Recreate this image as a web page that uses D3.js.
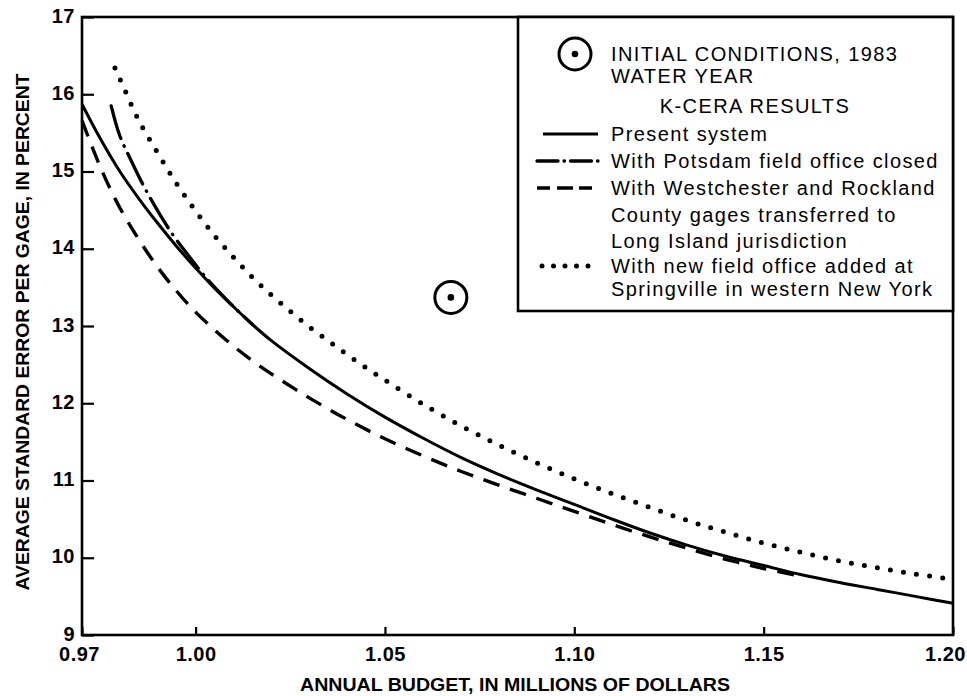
<!DOCTYPE html>
<html>
<head>
<meta charset="utf-8">
<script src="https://cdn.jsdelivr.net/npm/d3@7"></script>
<style>
  body { margin: 0; background: #fff; }
  svg { display: block; }
  text { font-family: "Liberation Sans", Arial, sans-serif; fill: #000; }
</style>
</head>
<body>
<svg id="chart" width="967" height="696"></svg>
<script>
// ---------- data ----------
const xTicks = [0.97, 1.00, 1.05, 1.10, 1.15, 1.20];
const yTicks = [9, 10, 11, 12, 13, 14, 15, 16, 17];

const presentX = [0.970,0.975,0.980,0.985,0.990,0.995,1.000,1.005,1.010,1.015,1.020,1.030,1.040,1.050,1.060,1.070,1.080,1.090,1.100,1.110,1.120,1.130,1.140,1.150,1.160,1.170,1.180,1.190,1.200];
const presentY = [15.87,15.41,15.00,14.65,14.33,14.03,13.75,13.49,13.25,13.02,12.81,12.45,12.12,11.82,11.55,11.30,11.08,10.88,10.69,10.50,10.32,10.16,10.02,9.90,9.78,9.68,9.59,9.50,9.41];

const potsdamX = [0.9777,0.980,0.983,0.986,0.990,0.994,0.998,1.002,1.006,1.010,1.015];
const potsdamY = [15.85,15.46,15.14,14.84,14.49,14.18,13.92,13.67,13.45,13.25,13.02];

const westX = [0.970,0.9725,0.975,0.9775,0.980,0.985,0.990,0.995,1.000,1.005,1.010,1.015,1.020,1.030,1.040,1.050,1.060,1.070,1.080,1.090,1.100,1.110,1.120,1.130,1.140,1.150,1.158];
const westY = [15.66,15.34,15.04,14.77,14.53,14.12,13.76,13.45,13.18,12.95,12.74,12.55,12.38,12.07,11.79,11.54,11.32,11.12,10.94,10.77,10.60,10.43,10.27,10.12,9.98,9.86,9.78];

const springX = [0.9787,0.981,0.985,0.990,0.995,1.000,1.005,1.010,1.015,1.020,1.025,1.030,1.035,1.040,1.045,1.050,1.060,1.070,1.080,1.090,1.100,1.110,1.120,1.130,1.140,1.150,1.160,1.170,1.180,1.190,1.200];
const springY = [16.34,16.09,15.66,15.24,14.84,14.49,14.17,13.89,13.63,13.40,13.19,12.99,12.81,12.63,12.46,12.30,11.99,11.71,11.46,11.23,11.02,10.83,10.65,10.48,10.33,10.19,10.07,9.96,9.87,9.79,9.72];

const initialX = [1.0674];
const initialY = [13.37];

const xTitle = "ANNUAL BUDGET, IN MILLIONS OF DOLLARS";
const yTitle = "AVERAGE STANDARD ERROR PER GAGE, IN PERCENT";
const legendHeader = ["INITIAL CONDITIONS, 1983", "WATER YEAR"];
const legendSub = "K-CERA RESULTS";
const legendLabels = [
  ["Present system"],
  ["With Potsdam field office closed"],
  ["With Westchester and Rockland", "County gages transferred to", "Long Island jurisdiction"],
  ["With new field office added at", "Springville in western New York"]
];

// ---------- layout ----------
const L = 82, R = 953, T = 17, B = 635;
const svg = d3.select("#chart");
const x = d3.scaleLinear().domain([0.97, 1.20]).range([L, R]);
const y = d3.scaleLinear().domain([9, 17]).range([B, T]);

const styles = [
  { w: 3.0, dash: null, cap: "butt" },
  { w: 3.3, dash: "34,8,0.5,8", cap: "round" },
  { w: 3.4, dash: "17,11", cap: "butt" },
  { w: 5.0, dash: "0,13.2", cap: "round" }
];
const series = [
  presentX.map((d, i) => [d, presentY[i]]),
  potsdamX.map((d, i) => [d, potsdamY[i]]),
  westX.map((d, i) => [d, westY[i]]),
  springX.map((d, i) => [d, springY[i]])
];

const line = d3.line().x(d => x(d[0])).y(d => y(d[1])).curve(d3.curveCatmullRom.alpha(0.5));

// curves
series.forEach((s, i) => {
  const st = styles[i];
  const p = svg.append("path").datum(s).attr("d", line)
    .attr("fill", "none").attr("stroke", "#000")
    .attr("stroke-width", st.w).attr("stroke-linecap", st.cap);
  if (st.dash) p.attr("stroke-dasharray", st.dash);
});

// axes
const yAxis = d3.axisLeft(y).tickValues(yTicks).tickFormat(d3.format("d")).tickSize(-12).tickPadding(7);
const gy = svg.append("g").attr("transform", `translate(${L},0)`).call(yAxis);
gy.select(".domain").remove();
gy.selectAll("line").attr("stroke", "#000").attr("stroke-width", 2.2);
gy.selectAll("text").attr("font-size", 20).attr("font-weight", "bold").attr("letter-spacing", 0.5)
  .attr("font-family", "'Liberation Sans', Arial, sans-serif").attr("dy", "0.26em");

const xAxis = d3.axisBottom(x).tickValues(xTicks).tickFormat(d3.format(".2f")).tickSize(-8).tickPadding(12);
const gx = svg.append("g").attr("transform", `translate(0,${B})`).call(xAxis);
gx.select(".domain").remove();
gx.selectAll("line").attr("stroke", "#000").attr("stroke-width", 2.2);
gx.selectAll("text").attr("font-size", 20).attr("font-weight", "bold").attr("letter-spacing", 0.5)
  .attr("font-family", "'Liberation Sans', Arial, sans-serif")
  .attr("dx", (d, i) => i === xTicks.length - 1 ? -8 : (i === 0 ? -3 : 0));

// frame
svg.append("rect").attr("x", L).attr("y", T).attr("width", R - L).attr("height", B - T)
  .attr("fill", "none").attr("stroke", "#000").attr("stroke-width", 2.6);

// initial conditions marker
const mk = svg.append("g");
initialX.forEach((d, i) => {
  mk.append("circle").attr("cx", x(d)).attr("cy", y(initialY[i])).attr("r", 16)
    .attr("fill", "none").attr("stroke", "#000").attr("stroke-width", 3);
  mk.append("circle").attr("cx", x(d)).attr("cy", y(initialY[i])).attr("r", 3.3).attr("fill", "#000");
});

// legend
const lg = svg.append("g");
const lgX0 = 518, lgY1 = 311;
lg.append("rect").attr("x", lgX0).attr("y", T).attr("width", R - lgX0).attr("height", lgY1 - T)
  .attr("fill", "#fff").attr("stroke", "#000").attr("stroke-width", 2.6);
lg.append("circle").attr("cx", 575).attr("cy", 54).attr("r", 16)
  .attr("fill", "none").attr("stroke", "#000").attr("stroke-width", 3);
lg.append("circle").attr("cx", 575).attr("cy", 54).attr("r", 3.3).attr("fill", "#000");

const txtX = 611;
const lgFont = 20, lgSpace = 1.4;
function lgText(str, xx, yy, anchor) {
  lg.append("text").attr("x", xx).attr("y", yy).attr("font-size", lgFont)
    .attr("letter-spacing", lgSpace).attr("text-anchor", anchor || "start").text(str);
}
lgText(legendHeader[0], txtX, 61);
lgText(legendHeader[1], txtX, 83);
lgText(legendSub, 755, 113, "middle");

const rowBase = [141, 168, 195, 273];
const sampleStarts = [543, 537, 537, 542];
legendLabels.forEach((lines, i) => {
  lines.forEach((s, j) => lgText(s, txtX, rowBase[i] + j * 26.5 + (i === 3 ? -4 * j : 0)));
  const st = styles[i];
  const ly = rowBase[i] - 7;
  const ln = lg.append("line").attr("x1", sampleStarts[i]).attr("x2", 598).attr("y1", ly).attr("y2", ly)
    .attr("stroke", "#000").attr("stroke-width", st.w).attr("stroke-linecap", st.cap);
  if (i === 1) ln.attr("stroke-dasharray", "21,6,0.5,6");
  else if (i === 2) ln.attr("stroke-dasharray", "13,7,16,6");
  else if (i === 3) ln.attr("stroke-dasharray", "0,11.5");
});

// axis titles
svg.append("text").attr("x", 515).attr("y", 691).attr("text-anchor", "middle")
  .attr("font-size", 18).attr("font-weight", "bold")
  .attr("textLength", 430).attr("lengthAdjust", "spacingAndGlyphs").text(xTitle);
svg.append("text").attr("transform", "translate(29,332) rotate(-90)").attr("text-anchor", "middle")
  .attr("font-size", 18.5).attr("font-weight", "bold")
  .attr("textLength", 517).attr("lengthAdjust", "spacingAndGlyphs").text(yTitle);
</script>
</body>
</html>
